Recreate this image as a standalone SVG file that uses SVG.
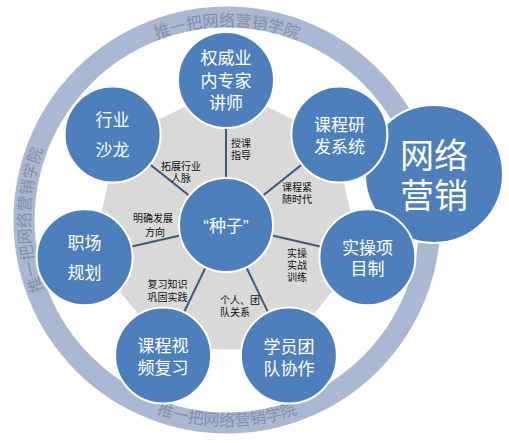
<svg xmlns="http://www.w3.org/2000/svg" xmlns:xlink="http://www.w3.org/1999/xlink" width="509" height="443" viewBox="0 0 509 443">
<style>
text{font-family:"Liberation Sans","Noto Sans CJK SC",sans-serif}
.ring{fill:none;stroke:#abb8d4;stroke-width:21}
.ringtxt{font-size:16px;fill:#868fa5}
.node{fill:#4d7fbc;stroke:#ffffff;stroke-width:2}
.big{font-size:17px;fill:#ffffff;text-anchor:middle}
.huge{font-size:34px;fill:#ffffff;text-anchor:middle}
.lbl{font-size:10px;fill:#111111;text-anchor:middle}
.lbs{text-anchor:start}
.conn{stroke:#41597a;stroke-width:2;fill:none}
</style>
<defs>
<path id="pTop" d="M59,123 A194,194 0 0 1 395,123"/>
<path id="pLeft" d="M128.5,390.6 A197,197 0 0 1 128.5,49.4"/>
<path id="pBot" d="M48.6,323 A206,206 0 0 0 405.4,323"/>
</defs>
<rect width="509" height="443" fill="#ffffff"/>
<g id="ring">
<circle class="ring" cx="227" cy="220" r="203"/>
<text class="ringtxt"><textPath xlink:href="#pTop" href="#pTop" startOffset="50%" text-anchor="middle">推一把网络营销学院</textPath></text>
<text class="ringtxt"><textPath xlink:href="#pLeft" href="#pLeft" startOffset="50%" text-anchor="middle">推一把网络营销学院</textPath></text>
<text class="ringtxt"><textPath xlink:href="#pBot" href="#pBot" startOffset="50%" text-anchor="middle">推一把网络营销学院</textPath></text>
</g>
<g id="node-wangluo">
<circle class="node" cx="434" cy="174" r="69"/>
<text class="huge" x="434" y="168">网络<tspan x="434" dy="40">营销</tspan></text>
</g>
<g id="background">
<polygon fill="#d9d9d9" points="226,87 333.9,139 360.5,255.7 285.9,349.3 166.1,349.3 91.5,255.7 118.1,139"/>
</g>
<g id="connectors">
<line class="conn" x1="226" y1="225" x2="226" y2="80"/>
<line class="conn" x1="226" y1="225" x2="339.4" y2="134.6"/>
<line class="conn" x1="226" y1="225" x2="367.4" y2="257.3"/>
<line class="conn" x1="226" y1="225" x2="288.9" y2="355.6"/>
<line class="conn" x1="226" y1="225" x2="163.1" y2="355.6"/>
<line class="conn" x1="226" y1="225" x2="84.6" y2="257.3"/>
<line class="conn" x1="226" y1="225" x2="112.6" y2="134.6"/>
<text class="lbl lbs" x="231" y="147">授课<tspan x="231" dy="12">指导</tspan></text>
<text class="lbl" x="181" y="170">拓展行业<tspan x="181" dy="12">人脉</tspan></text>
<text class="lbl" x="297" y="191">课程紧<tspan x="297" dy="12">随时代</tspan></text>
<text class="lbl" x="153" y="222">明确发展<tspan x="155" dy="14">方向</tspan></text>
<text class="lbl" x="297" y="257">实操<tspan x="297" dy="12">实战</tspan><tspan x="297" dy="12">训练</tspan></text>
<text class="lbl" x="167.5" y="288">复习知识<tspan x="167.5" dy="13">巩固实践</tspan></text>
<text class="lbl lbs" x="220" y="304">个人、团<tspan x="220" dy="12">队关系</tspan></text>
</g>
<g id="node-expert">
<circle class="node" cx="226" cy="80" r="48"/>
<text class="big" x="226" y="63.5">权威业<tspan x="226" dy="23">内专家</tspan><tspan x="226" dy="22">讲师</tspan></text>
</g>
<g id="node-course-dev">
<circle class="node" cx="339.4" cy="134.6" r="48"/>
<text class="big" x="339.4" y="130.5">课程研<tspan x="339.4" dy="22">发系统</tspan></text>
</g>
<g id="node-project">
<circle class="node" cx="367.4" cy="257.3" r="48"/>
<text class="big" x="367.4" y="253.5">实操项<tspan x="367.4" dy="21">目制</tspan></text>
</g>
<g id="node-team">
<circle class="node" cx="288.9" cy="355.6" r="48"/>
<text class="big" x="288.9" y="352.5">学员团<tspan x="288.9" dy="22">队协作</tspan></text>
</g>
<g id="node-video">
<circle class="node" cx="163.1" cy="355.6" r="48"/>
<text class="big" x="163.1" y="351.5">课程视<tspan x="163.1" dy="22">频复习</tspan></text>
</g>
<g id="node-career">
<circle class="node" cx="84.6" cy="257.3" r="48"/>
<text class="big" x="84.6" y="248.5">职场<tspan x="84.6" dy="30">规划</tspan></text>
</g>
<g id="node-salon">
<circle class="node" cx="112.6" cy="134.6" r="48"/>
<text class="big" x="112.6" y="125.5">行业<tspan x="112.6" dy="30">沙龙</tspan></text>
</g>
<g id="node-seed">
<circle class="node" cx="226" cy="225" r="47"/>
<text class="big" x="226" y="231.5">“种子”</text>
</g>
</svg>
